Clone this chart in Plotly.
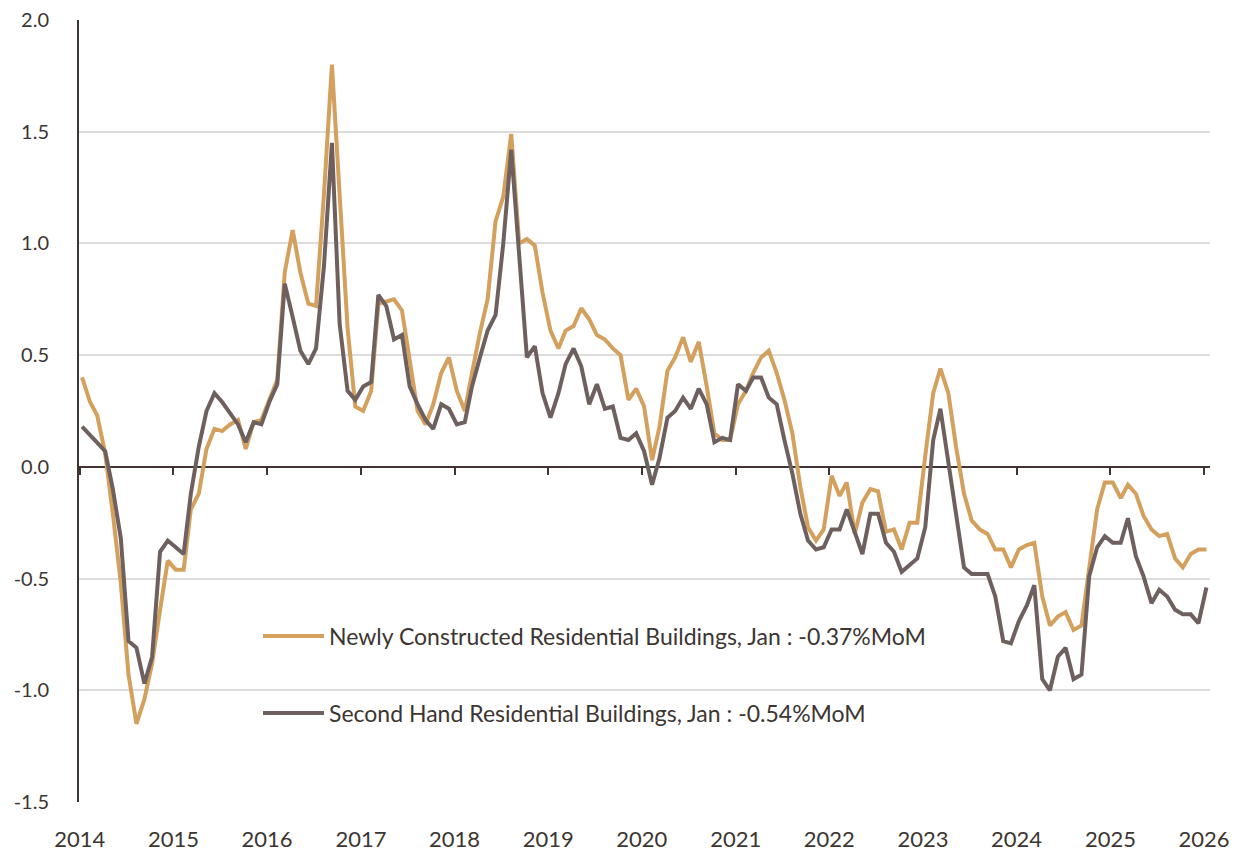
import plotly.graph_objects as go
import pandas as pd

# Monthly data, Jan 2014 .. Jan 2026 (% MoM)
months = pd.date_range("2014-01-01", periods=145, freq="MS") + pd.Timedelta(days=9)

newly_constructed = [
    0.40, 0.29, 0.23, 0.06, -0.21, -0.52, -0.93, -1.15, -1.04, -0.88, -0.64, -0.42,
    -0.46, -0.46, -0.19, -0.12, 0.08, 0.17, 0.16, 0.19, 0.21, 0.08, 0.20, 0.21,
    0.30, 0.39, 0.87, 1.06, 0.87, 0.73, 0.72, 1.22, 1.80, 1.20, 0.62, 0.27,
    0.25, 0.34, 0.73, 0.74, 0.75, 0.70, 0.49, 0.25, 0.19, 0.28, 0.42, 0.49,
    0.34, 0.25, 0.42, 0.60, 0.75, 1.10, 1.21, 1.49, 1.00, 1.02, 0.99, 0.78,
    0.61, 0.53, 0.61, 0.63, 0.71, 0.66, 0.59, 0.57, 0.53, 0.50, 0.30, 0.35,
    0.27, 0.03, 0.18, 0.43, 0.49, 0.58, 0.47, 0.56, 0.36, 0.15, 0.12, 0.12,
    0.28, 0.34, 0.42, 0.49, 0.52, 0.42, 0.30, 0.15, -0.09, -0.27, -0.33, -0.28,
    -0.04, -0.13, -0.07, -0.30, -0.16, -0.10, -0.11, -0.29, -0.28, -0.37, -0.25, -0.25,
    0.05, 0.33, 0.44, 0.33, 0.09, -0.12, -0.24, -0.28, -0.30, -0.37, -0.37, -0.45,
    -0.37, -0.35, -0.34, -0.58, -0.71, -0.67, -0.65, -0.73, -0.71, -0.45, -0.19, -0.07,
    -0.07, -0.14, -0.08, -0.12, -0.22, -0.28, -0.31, -0.30, -0.41, -0.45, -0.39, -0.37,
    -0.37,
]

second_hand = [
    0.18, 0.14, 0.11, 0.07, -0.10, -0.32, -0.78, -0.81, -0.97, -0.85, -0.38, -0.33,
    -0.36, -0.39, -0.12, 0.09, 0.25, 0.33, 0.29, 0.24, 0.19, 0.11, 0.20, 0.19,
    0.29, 0.37, 0.82, 0.67, 0.52, 0.46, 0.53, 0.90, 1.45, 0.64, 0.34, 0.30,
    0.36, 0.38, 0.77, 0.72, 0.57, 0.59, 0.36, 0.28, 0.21, 0.17, 0.28, 0.26,
    0.19, 0.20, 0.36, 0.49, 0.61, 0.68, 1.00, 1.42, 0.94, 0.49, 0.54, 0.33,
    0.22, 0.33, 0.46, 0.53, 0.45, 0.28, 0.37, 0.26, 0.27, 0.13, 0.12, 0.15,
    0.07, -0.08, 0.04, 0.22, 0.25, 0.31, 0.26, 0.35, 0.28, 0.11, 0.13, 0.12,
    0.37, 0.34, 0.40, 0.40, 0.31, 0.28, 0.12, -0.03, -0.21, -0.33, -0.37, -0.36,
    -0.28, -0.28, -0.19, -0.29, -0.39, -0.21, -0.21, -0.34, -0.38, -0.47, -0.44, -0.41,
    -0.27, 0.12, 0.26, 0.02, -0.24, -0.45, -0.48, -0.48, -0.48, -0.58, -0.78, -0.79,
    -0.69, -0.62, -0.53, -0.95, -1.00, -0.85, -0.81, -0.95, -0.93, -0.49, -0.36, -0.31,
    -0.34, -0.34, -0.23, -0.40, -0.49, -0.61, -0.55, -0.58, -0.64, -0.66, -0.66, -0.70,
    -0.54,
]

series_names = [
    "Newly Constructed Residential Buildings, Jan : -0.37%MoM",
    "Second Hand Residential Buildings, Jan : -0.54%MoM",
]
y_ticks = [2.0, 1.5, 1.0, 0.5, 0.0, -0.5, -1.0, -1.5]
y_tick_text = ["2.0", "1.5", "1.0", "0.5", "0.0", "-0.5", "-1.0", "-1.5"]

GOLD = "#D3A05E"
DARK = "#6E605E"
TEXT = "#3D3532"
AXIS = "#3F3431"
GRID = "#DCDCDC"
FONT = "Lato"

x_range = ["2013-12-29", "2026-01-24"]

# page body has 8px default margins; the figure is placed accordingly
OFF = 8
W, H = 1229, 843
ML, MT = 79 - OFF, 20 - OFF
PW, PH = 1131, 782
MR, MB = W - ML - PW, H - MT - PH

fig = go.Figure()
fig.add_trace(go.Scatter(
    x=months, y=newly_constructed, name=series_names[0], mode="lines",
    line=dict(color=GOLD, width=4), legend="legend",
))
fig.add_trace(go.Scatter(
    x=months, y=second_hand, name=series_names[1], mode="lines",
    line=dict(color=DARK, width=4), legend="legend2",
))
# invisible helper trace so the zero-line axis is rendered
fig.add_trace(go.Scatter(x=[months[0]], y=[0], xaxis="x2", mode="markers",
                         marker=dict(opacity=0), showlegend=False, hoverinfo="skip"))

leg_x = (258 - OFF - ML) / PW
def leg_y(screen_y):
    return (MT + PH - (screen_y - OFF)) / PH

fig.update_layout(
    width=W, height=H,
    margin=dict(l=ML, r=MR, t=MT, b=MB, autoexpand=False),
    paper_bgcolor="white", plot_bgcolor="white",
    font=dict(family=FONT, color=TEXT),
    xaxis=dict(
        type="date", range=x_range, automargin=False,
        tickformat="%Y", dtick="M12", tick0="2014-01-01",
        showgrid=False, zeroline=False, showline=False, ticks="",
        tickfont=dict(size=22, color=TEXT, family=FONT),
        ticklabelstandoff=22, ticklabeloverflow="allow",
    ),
    xaxis2=dict(
        type="date", range=x_range, overlaying="x", anchor="free",
        position=1.5 / 3.5, side="bottom", automargin=False,
        dtick="M12", tick0="2014-01-01",
        showgrid=False, zeroline=False, showline=True,
        linecolor=AXIS, linewidth=2,
        ticks="outside", ticklen=7, tickwidth=2, tickcolor=AXIS,
        showticklabels=False, layer="below traces",
    ),
    yaxis=dict(
        range=[-1.5, 2.0], tickvals=y_ticks, ticktext=y_tick_text,
        automargin=False,
        showgrid=True, gridcolor=GRID, gridwidth=2,
        zeroline=False, showline=True, linecolor=AXIS, linewidth=2,
        ticks="", tickfont=dict(size=20, color=TEXT, family=FONT),
        ticklabelstandoff=24, ticklabeloverflow="allow",
    ),
    legend=dict(
        x=leg_x, y=leg_y(636), xanchor="left", yanchor="middle",
        bgcolor="rgba(0,0,0,0)", font=dict(size=23, color=TEXT, family=FONT),
        itemwidth=61, borderwidth=0,
    ),
    legend2=dict(
        x=leg_x, y=leg_y(713), xanchor="left", yanchor="middle",
        bgcolor="rgba(0,0,0,0)", font=dict(size=23, color=TEXT, family=FONT),
        itemwidth=61, borderwidth=0,
    ),
    showlegend=True,
)

fig.write_html("out.html")
